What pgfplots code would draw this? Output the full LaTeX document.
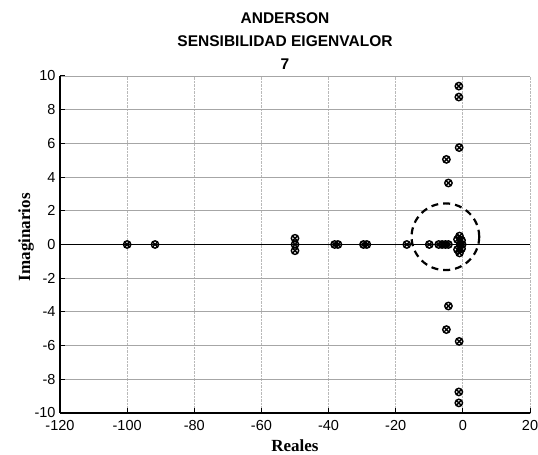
\documentclass[border=0pt]{standalone}
\usepackage{fontspec}
\setmainfont{Liberation Sans}
\newfontfamily\timesfont{Liberation Serif}
\usepackage{pgfplots}
\pgfplotsset{compat=1.18}
\usetikzlibrary{plotmarks}

\pgfplotstableread{
x y
-100 0
-91.7 0
-50 0.37
-50 0
-50 -0.37
-38.2 0
-37.2 0
-29.6 0
-28.6 0
-16.7 0
-10.0 0
-7.2 0
-6.2 0
-5.2 0
-4.3 0
-1.6 0.3
-1.6 -0.3
-1.0 0.5
-1.0 -0.5
-0.8 0
-0.4 0.25
-0.4 -0.25
-0.2 0
-4.3 3.65
-4.3 -3.65
-4.9 5.05
-4.9 -5.05
-1.1 5.75
-1.1 -5.75
-1.2 8.75
-1.2 -8.75
-1.2 9.4
-1.2 -9.4
}\eigdata

\begin{document}
\begin{tikzpicture}
\begin{axis}[
  at={(60pt,42pt)}, anchor=south west,
  width=470pt, height=337pt, scale only axis,
  xmin=-120, xmax=20, ymin=-10, ymax=10,
  xtick={-120,-100,...,20}, ytick={-10,-8,...,10},
  axis x line*=bottom, axis y line*=left,
  axis line style={-, black, line width=1.6pt},
  every outer x axis line/.append style={-},
  every outer y axis line/.append style={-},
  tick align=inside, major tick length=5pt,
  tick style={black, line width=1pt},
  grid=major,
  x grid style={gray!55, densely dotted, line width=0.9pt},
  y grid style={gray!70, line width=0.9pt},
  tick label style={font=\fontsize{14.5}{17}\selectfont},
  xticklabel style={yshift=-4pt},
  yticklabel style={xshift=-1pt},
  /pgf/number format/assume math mode=true,
  xlabel={Reales}, ylabel={Imaginarios},
  every axis x label/.style={at={(axis description cs:0.5,0)}, anchor=base, yshift=-38.7pt, font=\timesfont\bfseries\fontsize{17}{20}\selectfont},
  every axis y label/.style={at={(axis description cs:-0.0638,0.522)}, rotate=90, anchor=base, font=\timesfont\bfseries\fontsize{17}{20}\selectfont},
]
\addplot[black, line width=0.8pt, forget plot] coordinates {(-120,0) (20,0)};
\addplot[only marks, mark=otimes, mark size=3.7pt, mark options={line width=1.4pt, black}] table {\eigdata};
\draw[black, line width=2.2pt, dash pattern=on 7pt off 5pt] (axis cs:-5.2,0.46) ellipse [x radius=10.07, y radius=1.98];
\end{axis}
\node[anchor=north, align=center, font=\bfseries\fontsize{15.5}{23}\selectfont, inner sep=0pt] at (285pt, 443pt) {ANDERSON\\SENSIBILIDAD EIGENVALOR\\7};
\pgfresetboundingbox
\path (0,0) rectangle (538pt,455pt);
\end{tikzpicture}
\end{document}
